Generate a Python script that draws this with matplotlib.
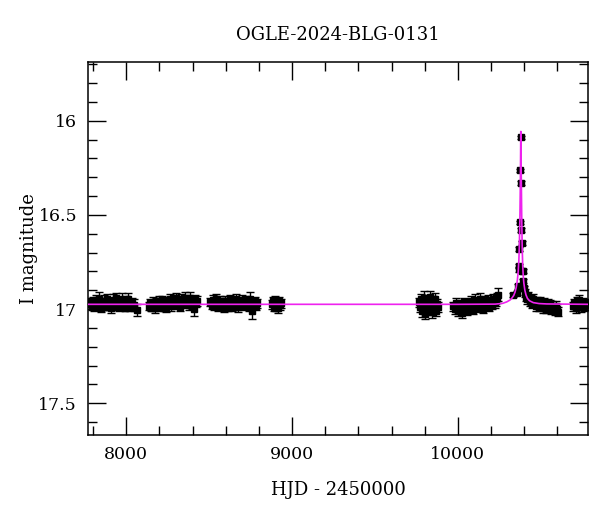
import numpy as np
import matplotlib
matplotlib.use("Agg")
import matplotlib.pyplot as plt
from matplotlib.ticker import MultipleLocator

plt.rcParams['font.family'] = ['DejaVu Serif']

title = "OGLE-2024-BLG-0131"

# (HJD-2450000, I mag, error), season by season
season1 = [(7778, 16.975, 0.024), (7784, 16.962, 0.020), (7791, 16.981, 0.026), (7797, 16.958, 0.022),
           (7804, 16.990, 0.021), (7811, 16.969, 0.030), (7818, 16.951, 0.023), (7824, 16.984, 0.020),
           (7831, 16.972, 0.025), (7838, 16.946, 0.034), (7845, 16.993, 0.022), (7851, 16.965, 0.021),
           (7858, 16.978, 0.024), (7865, 16.955, 0.028), (7872, 16.987, 0.020), (7878, 16.970, 0.023),
           (7885, 16.948, 0.026), (7892, 16.982, 0.021), (7899, 16.961, 0.022), (7905, 16.996, 0.025),
           (7912, 16.974, 0.020), (7919, 16.952, 0.031), (7926, 16.985, 0.022), (7932, 16.967, 0.024),
           (7939, 16.943, 0.030), (7946, 16.979, 0.021), (7953, 16.989, 0.023), (7959, 16.958, 0.026),
           (7966, 16.971, 0.020), (7973, 16.950, 0.033), (7980, 16.983, 0.022), (7986, 16.964, 0.024),
           (7993, 16.992, 0.021), (8000, 16.956, 0.027), (8007, 16.976, 0.022), (8013, 16.945, 0.029),
           (8020, 16.988, 0.023), (8034, 16.968, 0.025), (8048, 16.980, 0.032), (8062, 17.005, 0.030)]

season2 = [(8136, 16.985, 0.022), (8143, 16.970, 0.025), (8151, 16.992, 0.021), (8158, 16.961, 0.024),
           (8166, 16.978, 0.020), (8173, 16.996, 0.026), (8181, 16.966, 0.022), (8188, 16.983, 0.023),
           (8196, 16.958, 0.025), (8203, 16.989, 0.021), (8211, 16.972, 0.024), (8218, 16.954, 0.022),
           (8226, 16.981, 0.027), (8233, 16.967, 0.020), (8241, 16.993, 0.023), (8248, 16.960, 0.025),
           (8256, 16.975, 0.021), (8263, 16.948, 0.026), (8271, 16.986, 0.022), (8278, 16.964, 0.024),
           (8286, 16.952, 0.028), (8293, 16.979, 0.021), (8301, 16.941, 0.026), (8308, 16.970, 0.023),
           (8316, 16.957, 0.025), (8323, 16.988, 0.022), (8331, 16.946, 0.027), (8338, 16.963, 0.024),
           (8346, 16.975, 0.021), (8353, 16.939, 0.029), (8361, 16.968, 0.023), (8368, 16.952, 0.025),
           (8376, 16.981, 0.022), (8383, 16.944, 0.034), (8391, 16.960, 0.024), (8398, 16.975, 0.023),
           (8406, 16.998, 0.040), (8413, 16.950, 0.026), (8421, 16.968, 0.022), (8428, 16.957, 0.025)]

season3 = [(8507, 16.962, 0.023), (8514, 16.978, 0.021), (8521, 16.951, 0.026), (8528, 16.985, 0.022),
           (8536, 16.969, 0.024), (8543, 16.947, 0.027), (8550, 16.990, 0.021), (8558, 16.973, 0.023),
           (8565, 16.958, 0.025), (8572, 16.982, 0.022), (8579, 16.966, 0.024), (8587, 16.994, 0.021),
           (8594, 16.955, 0.026), (8601, 16.976, 0.022), (8608, 16.963, 0.023), (8616, 16.987, 0.025),
           (8623, 16.949, 0.024), (8630, 16.971, 0.021), (8637, 16.984, 0.026), (8645, 16.957, 0.022),
           (8652, 16.979, 0.024), (8659, 16.945, 0.027), (8666, 16.968, 0.021), (8674, 16.991, 0.023),
           (8681, 16.960, 0.025), (8688, 16.975, 0.022), (8695, 16.952, 0.024), (8703, 16.986, 0.021),
           (8710, 16.966, 0.026), (8717, 16.980, 0.022), (8724, 16.956, 0.024), (8732, 16.972, 0.023),
           (8739, 16.989, 0.021), (8746, 16.948, 0.036), (8753, 16.965, 0.024), (8760, 17.010, 0.045),
           (8767, 16.977, 0.022), (8775, 16.959, 0.025), (8782, 16.983, 0.023), (8789, 16.970, 0.024)]

season4 = [(8878, 16.975, 0.024), (8884, 16.960, 0.022), (8891, 16.988, 0.025), (8897, 16.952, 0.023),
           (8903, 16.982, 0.026), (8910, 16.968, 0.022), (8916, 16.995, 0.024), (8922, 16.958, 0.023),
           (8929, 16.978, 0.025), (8935, 16.970, 0.022)]

season5 = [(9768, 16.965, 0.026), (9774, 16.990, 0.024), (9780, 16.948, 0.030), (9786, 17.012, 0.028),
           (9792, 16.975, 0.025), (9798, 16.940, 0.035), (9804, 17.025, 0.030), (9810, 16.982, 0.026),
           (9816, 16.955, 0.028), (9822, 17.005, 0.027), (9828, 16.968, 0.025), (9834, 16.935, 0.032),
           (9840, 16.998, 0.026), (9846, 17.018, 0.029), (9852, 16.960, 0.027), (9858, 16.985, 0.025),
           (9864, 16.945, 0.028), (9870, 17.008, 0.027), (9876, 16.972, 0.026), (9880, 16.990, 0.025)]

season6 = [(9972, 16.985, 0.024), (9980, 17.002, 0.022), (9988, 16.968, 0.026), (9995, 16.995, 0.023),
           (10003, 17.012, 0.025), (10011, 16.975, 0.022), (10019, 16.990, 0.024), (10027, 17.020, 0.026),
           (10034, 16.962, 0.023), (10042, 16.998, 0.025), (10050, 16.978, 0.022), (10058, 17.008, 0.024),
           (10066, 16.970, 0.023), (10073, 16.988, 0.025), (10081, 16.955, 0.026), (10089, 17.005, 0.022),
           (10097, 16.972, 0.024), (10105, 16.950, 0.028), (10112, 16.992, 0.023), (10120, 16.965, 0.025),
           (10128, 16.983, 0.022), (10136, 16.945, 0.030), (10144, 16.975, 0.024), (10151, 16.998, 0.023),
           (10159, 16.958, 0.026), (10167, 16.985, 0.022), (10175, 16.968, 0.025), (10183, 16.952, 0.027),
           (10190, 16.990, 0.023), (10198, 16.962, 0.024), (10206, 16.978, 0.022), (10214, 16.948, 0.028),
           (10222, 16.970, 0.024), (10229, 16.958, 0.025), (10237, 16.940, 0.027), (10245, 16.925, 0.035)]

event = [(10335, 16.925, 0.012), (10355.5, 16.915, 0.012), (10361.6, 16.880, 0.012), (10368, 16.770, 0.011),
         (10369, 16.790, 0.011), (10371.2, 16.680, 0.010), (10372, 16.540, 0.010), (10375.4, 16.264, 0.009),
         (10379.6, 16.087, 0.008), (10381.4, 16.330, 0.009), (10383.3, 16.580, 0.010), (10385.6, 16.650, 0.010),
         (10388, 16.800, 0.011), (10391.7, 16.800, 0.011), (10395.3, 16.850, 0.012), (10399.5, 16.890, 0.012)]

season7 = [(10405, 16.915, 0.020), (10412, 16.935, 0.022), (10419, 16.948, 0.024), (10426, 16.930, 0.021),
           (10433, 16.960, 0.023), (10440, 16.952, 0.025), (10447, 16.975, 0.022), (10454, 16.945, 0.026),
           (10462, 16.968, 0.023), (10469, 16.985, 0.024), (10476, 16.958, 0.022), (10483, 16.972, 0.025),
           (10490, 16.990, 0.023), (10498, 16.962, 0.024), (10505, 16.980, 0.022), (10512, 16.995, 0.025),
           (10519, 16.965, 0.023), (10526, 16.985, 0.024), (10534, 17.000, 0.022), (10541, 16.972, 0.025),
           (10548, 16.990, 0.023), (10555, 16.978, 0.024), (10562, 17.005, 0.022), (10570, 16.985, 0.025),
           (10577, 16.995, 0.023), (10584, 17.010, 0.024), (10591, 16.982, 0.022), (10598, 17.000, 0.025),
           (10604, 17.015, 0.024)]

season8 = [(10696, 16.985, 0.024), (10703, 16.970, 0.022), (10710, 16.995, 0.025), (10717, 16.960, 0.023),
           (10724, 16.980, 0.026), (10731, 16.950, 0.024), (10738, 16.975, 0.022), (10745, 16.990, 0.025),
           (10752, 16.962, 0.023), (10759, 16.985, 0.024), (10766, 16.970, 0.022), (10773, 16.978, 0.025)]

# model curve, sampled by eye along the magenta line
model_hjd = [7770, 10000, 10225, 10270, 10295, 10315, 10325, 10337, 10345, 10352, 10359, 10364, 10368,
             10371, 10374, 10377, 10379.6, 10382, 10385, 10388, 10391, 10394, 10398, 10404, 10411,
             10420, 10432, 10455, 10490, 10536, 10785]
model_mag = [16.975, 16.975, 16.974, 16.970, 16.962, 16.952, 16.943, 16.928, 16.910, 16.885, 16.846,
             16.800, 16.740, 16.660, 16.530, 16.330, 16.057, 16.260, 16.500, 16.670, 16.765, 16.820,
             16.862, 16.900, 16.925, 16.944, 16.956, 16.966, 16.971, 16.973, 16.975]

fig = plt.figure(figsize=(6.0, 5.12), dpi=100)
ax = fig.add_axes([0.147, 0.150, 0.833, 0.729])

for s in [season1, season2, season3, season4, season5, season6, event, season7, season8]:
    t, m, e = np.array(s).T
    ax.errorbar(t, m, yerr=e, fmt='s', color='black', ecolor='black', markersize=4.0,
                elinewidth=1.0, capsize=2.6, capthick=1.0, zorder=2)

ax.plot(model_hjd, model_mag, color='#ee22ee', linewidth=1.2, zorder=3)

ax.set_xlim(7770, 10785)
ax.set_ylim(17.67, 15.688)
ax.xaxis.set_major_locator(MultipleLocator(1000))
ax.xaxis.set_minor_locator(MultipleLocator(200))
ax.yaxis.set_major_locator(MultipleLocator(0.5))
ax.yaxis.set_minor_locator(MultipleLocator(0.1))
ax.yaxis.set_major_formatter(plt.FuncFormatter(lambda v, p: f'{v:g}'))
ax.tick_params(which='both', direction='in', top=True, right=True, labelsize=12.5, width=1)
ax.tick_params(which='major', length=13, pad=8)
ax.tick_params(which='minor', length=6.5)
for sp in ax.spines.values():
    sp.set_linewidth(1.1)

ax.set_xlabel('HJD - 2450000', fontsize=13, labelpad=13)
ax.set_ylabel('I magnitude', fontsize=13, labelpad=0)
ax.set_title(title, fontsize=13, pad=16)

fig.savefig('out.png', dpi=100)
